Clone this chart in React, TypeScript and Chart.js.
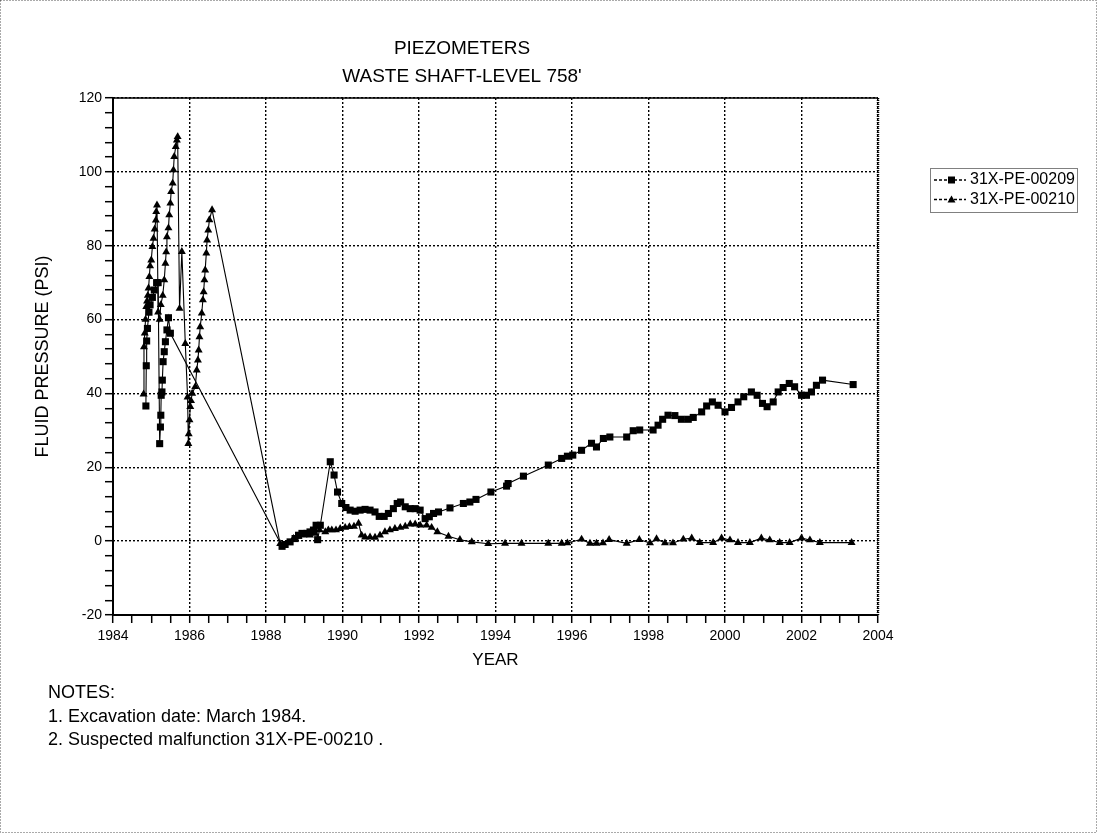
import React, { useEffect, useRef } from 'react';
import { Chart, registerables } from 'chart.js';

Chart.register(...registerables);

const FONT = '"Liberation Sans", Arial, Helvetica, sans-serif';

const titleLines = ['PIEZOMETERS', "WASTE SHAFT-LEVEL 758'"];
const xAxisTitle = 'YEAR';
const yAxisTitle = 'FLUID PRESSURE (PSI)';
const seriesNames = ['31X-PE-00209', '31X-PE-00210'];
const noteLines = ['NOTES:', '1. Excavation date: March 1984.', '2. Suspected malfunction 31X-PE-00210 .'];

const xMin = 1984;
const xMax = 2004;
const xMinorStep = 0.5;
const xLabelStep = 2;
const yMin = -20;
const yMax = 120;
const yMinorStep = 4;
const yLabelStep = 20;

// 31X-PE-00209 (squares)
const pe209Years = [
  1984.86, 1984.87, 1984.88, 1984.9, 1984.94, 1984.97, 1985.03, 1985.08, 1985.14, 1985.18,
  1985.22, 1985.24, 1985.25, 1985.26, 1985.28, 1985.29, 1985.31, 1985.34, 1985.37, 1985.41,
  1985.45, 1985.5,
  1988.42, 1988.5, 1988.63, 1988.76, 1988.85, 1988.94, 1989.07, 1989.15, 1989.24, 1989.31,
  1989.35, 1989.42, 1989.68, 1989.78, 1989.87, 1989.98, 1990.09, 1990.2, 1990.33, 1990.46,
  1990.59, 1990.72, 1990.85, 1990.96, 1991.09, 1991.2, 1991.33, 1991.43, 1991.52, 1991.64,
  1991.77, 1991.9, 1992.03, 1992.16, 1992.27, 1992.38, 1992.51, 1992.81, 1993.16, 1993.33,
  1993.49, 1993.88, 1994.29, 1994.33, 1994.73, 1995.38, 1995.73, 1995.88, 1996.02, 1996.25,
  1996.51, 1996.64, 1996.82, 1996.99, 1997.43, 1997.6, 1997.77, 1998.12, 1998.25, 1998.37,
  1998.51, 1998.69, 1998.86, 1999.04, 1999.17, 1999.39, 1999.52, 1999.67, 1999.82, 2000.0,
  2000.17, 2000.34, 2000.49, 2000.69, 2000.84, 2000.98, 2001.1, 2001.26, 2001.39, 2001.52,
  2001.68, 2001.82, 2002.0, 2002.13, 2002.26, 2002.39, 2002.55, 2003.35,
];
const pe209Values = [
  36.6, 47.5, 54.2, 57.6, 62, 64, 66, 68, 70, 70,
  26.4, 30.9, 34.1, 39.5, 40.4, 43.6, 48.6, 51.3, 54, 57.2,
  60.5, 56.3,
  -1.4, -0.9, -0.2, 0.7, 1.6, 2.1, 2.1, 2.5, 3.0, 4.3,
  0.4, 4.3, 21.5, 17.9, 13.3, 10.2, 9.1, 8.4, 8.1, 8.4,
  8.6, 8.4, 7.9, 6.7, 6.7, 7.5, 8.8, 10.2, 10.6, 9.3,
  8.8, 8.8, 8.4, 6.1, 6.6, 7.5, 7.9, 9.0, 10.2, 10.6,
  11.3, 13.3, 14.9, 15.6, 17.6, 20.6, 22.4, 23.0, 23.3, 24.6,
  26.5, 25.5, 27.8, 28.2, 28.2, 29.9, 30.1, 30.1, 31.4, 33.0,
  34.1, 34.0, 33.0, 33.0, 33.5, 35.0, 36.6, 37.7, 36.8, 35.0,
  36.2, 37.7, 39.1, 40.4, 39.5, 37.3, 36.4, 37.7, 40.4, 41.6,
  42.7, 41.8, 39.5, 39.5, 40.4, 42.2, 43.6, 42.4,
];

// 31X-PE-00210 (triangles)
const pe210Years = [
  1984.8, 1984.81, 1984.83, 1984.85, 1984.87, 1984.89, 1984.91, 1984.93, 1984.95, 1984.97,
  1985.0, 1985.03, 1985.06, 1985.09, 1985.12, 1985.13, 1985.15, 1985.18, 1985.22, 1985.25,
  1985.3, 1985.34, 1985.37, 1985.39, 1985.41, 1985.45, 1985.47, 1985.5, 1985.52, 1985.56,
  1985.58, 1985.6, 1985.64, 1985.67, 1985.69, 1985.74, 1985.8, 1985.89, 1985.95, 1985.97,
  1985.98, 1986.0, 1986.02, 1986.04, 1986.07, 1986.15, 1986.19, 1986.22, 1986.24, 1986.26,
  1986.28, 1986.32, 1986.35, 1986.37, 1986.39, 1986.41, 1986.44, 1986.46, 1986.49, 1986.52,
  1986.59,
  1988.37, 1988.72, 1988.85, 1988.98, 1989.15, 1989.28, 1989.4, 1989.55, 1989.63, 1989.72,
  1989.83, 1989.94, 1990.07, 1990.18, 1990.3, 1990.42, 1990.5, 1990.59, 1990.72, 1990.85,
  1990.98, 1991.11, 1991.24, 1991.37, 1991.51, 1991.64, 1991.77, 1991.9, 1992.03, 1992.2,
  1992.33, 1992.48, 1992.77, 1993.07, 1993.38, 1993.81, 1994.25, 1994.68, 1995.38, 1995.73,
  1995.88, 1996.25, 1996.47, 1996.64, 1996.81, 1996.97, 1997.43, 1997.76, 1998.04, 1998.21,
  1998.43, 1998.64, 1998.91, 1999.13, 1999.34, 1999.69, 1999.91, 2000.13, 2000.34, 2000.65,
  2000.95, 2001.17, 2001.43, 2001.69, 2002.0, 2002.22, 2002.48, 2003.31,
];
const pe210Values = [
  39.8, 52.6, 56.3, 60, 63.5, 65, 66.5, 68.5, 71.6, 74.5,
  76.1, 79.7, 82, 84.5, 86.9, 89.2, 91, 62, 60, 64,
  66.5, 70.7, 75.2, 78.3, 82.4, 84.8, 88.3, 91.5, 94.6, 96.9,
  100.5, 104.1, 106.8, 108.6, 109.5, 63, 78.4, 53.5, 39, 26.4,
  29, 32.8, 36.4, 38, 40, 41.8, 46.3, 49, 51.7, 55.3,
  58, 61.7, 65.3, 67.5, 70.7, 73.4, 78, 81.5, 84.2, 87,
  89.7,
  -0.7, 0.7, 1.3, 1.6, 1.6, 2.1, 3.0, 2.5, 3.0, 3.0,
  3.0, 3.4, 3.7, 3.9, 4.0, 4.8, 1.6, 1.1, 1.1, 1.0,
  1.6, 2.5, 3.0, 3.4, 3.7, 4.0, 4.6, 4.6, 4.3, 4.3,
  3.7, 2.5, 1.3, 0.4, -0.2, -0.7, -0.6, -0.6, -0.6, -0.6,
  -0.5, 0.5, -0.6, -0.6, -0.5, 0.4, -0.6, 0.4, -0.5, 0.6,
  -0.5, -0.5, 0.5, 0.8, -0.4, -0.4, 0.8, 0.3, -0.4, -0.4,
  0.8, 0.3, -0.4, -0.4, 0.8, 0.3, -0.4, -0.4,
];

const toPoints = (xs: number[], ys: number[]) => xs.map((x, i) => ({ x, y: ys[i] }));

const W = 1097;
const H = 833;

export default function App() {
  const ref = useRef<HTMLCanvasElement | null>(null);

  useEffect(() => {
    document.body.style.margin = '0';
    document.body.style.overflow = 'hidden';
    const canvas = ref.current;
    if (!canvas) return;

    const decorations = {
      id: 'decorations',
      beforeDatasetsDraw(chart: any) {
        const { ctx, chartArea: a } = chart;
        ctx.save();
        ctx.strokeStyle = '#000';
        ctx.lineWidth = 1.5;
        ctx.setLineDash([]);
        ctx.beginPath();
        ctx.moveTo(a.left, a.top);
        ctx.lineTo(a.right, a.top);
        ctx.stroke();
        ctx.lineWidth = 2.5;
        ctx.setLineDash([1, 1]);
        ctx.beginPath();
        ctx.moveTo(a.right, a.top);
        ctx.lineTo(a.right, a.bottom);
        ctx.stroke();
        ctx.setLineDash([]);
        ctx.lineWidth = 2;
        ctx.beginPath();
        ctx.moveTo(a.left, a.top);
        ctx.lineTo(a.left, a.bottom);
        ctx.lineTo(a.right, a.bottom);
        ctx.stroke();
        ctx.restore();
      },
      afterDraw(chart: any) {
        const { ctx } = chart;
        ctx.save();
        ctx.fillStyle = '#000';
        ctx.font = `19px ${FONT}`;
        ctx.textAlign = 'center';
        ctx.textBaseline = 'middle';
        ctx.fillText(titleLines[0], 462, 49);
        ctx.fillText(titleLines[1], 462, 77);

        const lx = 930, ly = 168, lw = 147, lh = 44;
        ctx.strokeStyle = '#000';
        ctx.lineWidth = 1;
        ctx.setLineDash([1, 1]);
        ctx.strokeRect(lx + 0.5, ly + 0.5, lw, lh);
        const rows = [180, 199.5];
        rows.forEach((ry, i) => {
          ctx.setLineDash([3, 2]);
          ctx.lineWidth = 1.3;
          ctx.beginPath();
          ctx.moveTo(934, ry);
          ctx.lineTo(966, ry);
          ctx.stroke();
          ctx.setLineDash([]);
          ctx.beginPath();
          if (i === 0) {
            ctx.rect(948, ry - 3.5, 7, 7);
          } else {
            ctx.moveTo(951.5, ry - 4);
            ctx.lineTo(955.5, ry + 3);
            ctx.lineTo(947.5, ry + 3);
            ctx.closePath();
          }
          ctx.fill();
          ctx.font = `16px ${FONT}`;
          ctx.textAlign = 'left';
          ctx.textBaseline = 'middle';
          ctx.fillText(seriesNames[i], 970, ry);
        });

        ctx.font = `18px ${FONT}`;
        ctx.textAlign = 'left';
        ctx.textBaseline = 'middle';
        const noteY = [693, 717, 740.5];
        noteLines.forEach((t, i) => ctx.fillText(t, 48, noteY[i]));

        ctx.strokeStyle = '#555';
        ctx.lineWidth = 1;
        ctx.setLineDash([1, 2]);
        ctx.strokeRect(0.5, 0.5, W - 1, H - 1);
        ctx.restore();
      },
    };

    const chart = new Chart(canvas, {
      type: 'line',
      data: {
        datasets: [
          {
            label: seriesNames[0],
            data: toPoints(pe209Years, pe209Values),
            borderColor: '#000',
            backgroundColor: '#000',
            borderWidth: 1.1,
            pointStyle: 'rect',
            pointRadius: 5,
            pointBorderWidth: 0,
            pointBackgroundColor: '#000',
            tension: 0,
          },
          {
            label: seriesNames[1],
            data: toPoints(pe210Years, pe210Values),
            borderColor: '#000',
            backgroundColor: '#000',
            borderWidth: 1.1,
            pointStyle: 'triangle',
            pointRadius: 4.6,
            pointBorderWidth: 0,
            pointBackgroundColor: '#000',
            tension: 0,
          },
        ],
      },
      options: {
        responsive: false,
        animation: false,
        layout: { padding: { left: 0, top: 98, right: 219, bottom: 148 } },
        plugins: {
          legend: { display: false },
          title: { display: false },
          tooltip: { enabled: false },
        },
        scales: {
          x: {
            type: 'linear',
            min: xMin,
            max: xMax,
            afterFit: (s: any) => {
              s.height = 70;
            },
            ticks: {
              stepSize: xMinorStep,
              autoSkip: false,
              maxTicksLimit: 200,
              maxRotation: 0,
              padding: 5,
              color: '#000',
              font: { family: FONT, size: 14 },
              callback: (v: any) => (Number(v) % xLabelStep === 0 ? String(v) : ''),
            },
            grid: {
              color: (c: any) => (c.tick && c.tick.value % xLabelStep === 0 ? '#000' : 'rgba(0,0,0,0)'),
              lineWidth: 1.4,
              tickColor: '#000',
              tickLength: 8,
              tickWidth: 1.5,
            },
            border: { display: false, dash: [2, 2] },
            title: {
              display: true,
              text: xAxisTitle,
              color: '#000',
              font: { family: FONT, size: 17 },
              padding: { top: 0, bottom: 14.5 },
            },
          },
          y: {
            type: 'linear',
            min: yMin,
            max: yMax,
            afterFit: (s: any) => {
              s.width = 113;
            },
            ticks: {
              stepSize: yMinorStep,
              autoSkip: false,
              maxTicksLimit: 200,
              padding: 3,
              color: '#000',
              font: { family: FONT, size: 14 },
              callback: (v: any) => (Number(v) % yLabelStep === 0 ? String(v) : ''),
            },
            grid: {
              color: (c: any) => (c.tick && c.tick.value % yLabelStep === 0 ? '#000' : 'rgba(0,0,0,0)'),
              lineWidth: 1.4,
              tickColor: '#000',
              tickLength: 8,
              tickWidth: 1.5,
            },
            border: { display: false, dash: [2, 2] },
            title: {
              display: true,
              text: yAxisTitle,
              color: '#000',
              font: { family: FONT, size: 18 },
              padding: { top: 32, bottom: 0 },
            },
          },
        },
      },
      plugins: [decorations],
    });

    return () => {
      chart.destroy();
    };
  }, []);

  return (
    <div style={{ position: 'absolute', left: 0, top: 0, width: W, height: H, background: '#fff' }}>
      <canvas ref={ref} width={W} height={H} style={{ width: W, height: H, display: 'block' }} />
    </div>
  );
}
